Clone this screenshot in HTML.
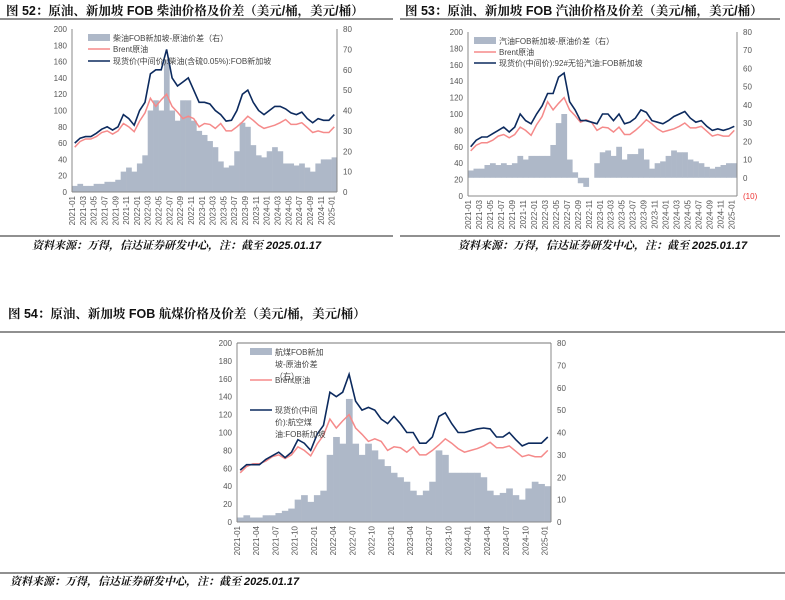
<!DOCTYPE html>
<html><head><meta charset="utf-8">
<style>
body{margin:0;background:#fff;width:785px;height:600px;overflow:hidden;font-family:"Liberation Sans","Noto Sans CJK SC",sans-serif;}
svg{position:absolute;left:0;top:0;}
.t{font-weight:bold;font-size:12.5px;fill:#111;font-family:"Liberation Sans","Noto Serif CJK SC",serif;}
.s{font-style:italic;font-weight:bold;font-size:11px;fill:#111;font-family:"Liberation Sans","Noto Serif CJK SC",serif;}
.tk{font-size:8px;fill:#555;}
.lg{font-size:8px;fill:#444;}
</style></head>
<body>
<svg id="page" width="785" height="600">
<text class="t" x="6" y="15">图 52：原油、新加坡 FOB 柴油价格及价差（美元/桶，美元/桶）</text>
<line x1="0" y1="19" x2="393" y2="19" stroke="#222" stroke-width="1"/>
<text class="t" x="405" y="15">图 53：原油、新加坡 FOB 汽油价格及价差（美元/桶，美元/桶）</text>
<line x1="400" y1="19" x2="780" y2="19" stroke="#222" stroke-width="1"/>
<line x1="0" y1="236" x2="393" y2="236" stroke="#222" stroke-width="1"/>
<line x1="400" y1="236" x2="780" y2="236" stroke="#222" stroke-width="1"/>
<text class="s" x="32" y="249">资料来源：万得，信达证券研发中心，注：截至 2025.01.17</text>
<text class="s" x="458" y="249">资料来源：万得，信达证券研发中心，注：截至 2025.01.17</text>
<text class="t" x="8" y="318">图 54：原油、新加坡 FOB 航煤价格及价差（美元/桶，美元/桶）</text>
<line x1="0" y1="332" x2="785" y2="332" stroke="#222" stroke-width="1"/>
<line x1="0" y1="573" x2="785" y2="573" stroke="#222" stroke-width="1"/>
<text class="s" x="10" y="585">资料来源：万得，信达证券研发中心，注：截至 2025.01.17</text>
</svg>
<script>
const months = [];
for (let y = 2021; y <= 2025; y++) for (let m = 1; m <= 12; m++) { if (y === 2025 && m > 1) break; months.push(y + '-' + String(m).padStart(2, '0')); }
const brent = [55,62,65,65,68,73,75,71,75,84,80,74, 87,97,115,105,113,120,105,98,90,93,90,80, 84,83,78,84,75,75,80,86,93,88,82,78, 80,82,85,89,83,83,85,79,73,75,73,73, 80];
const diesel = [60,66,68,68,72,77,80,76,80,95,90,82, 100,110,145,150,150,175,140,130,135,140,125,110, 110,108,100,95,87,88,100,120,125,110,100,95, 100,105,105,102,97,95,98,90,85,90,88,88, 95];
const dieselSpread = [3,4,3,3,4,4,5,5,6,10,12,10, 14,18,40,45,40,65,40,35,45,45,35,30, 28,25,22,15,12,13,20,34,32,23,18,17, 20,22,20,14,14,13,14,12,10,14,16,16,17];
const gasoline = [60,68,72,72,76,80,84,78,84,100,92,88, 100,110,125,125,145,150,115,105,92,92,90,88, 100,100,92,100,88,90,95,105,102,92,90,88, 92,97,100,103,95,90,92,85,80,82,80,82, 85];
const gasSpread = [4,5,5,7,8,7,8,7,8,12,10,12, 12,12,12,18,30,35,10,3,-3,-5,0,8, 14,15,12,17,10,13,13,16,10,5,8,9, 12,15,14,14,10,9,8,6,5,6,7,8,8];
const jet = [58,64,64,64,70,74,78,72,78,92,88,80, 98,108,145,140,145,165,135,125,128,125,115,110, 118,110,100,100,88,88,95,118,122,110,100,100, 102,104,105,104,95,95,100,92,85,88,88,88, 95];
const jetSpread = [2,3,2,2,3,3,4,5,6,10,12,9, 12,14,30,38,35,55,35,30,35,32,28,25, 22,20,18,14,12,14,18,32,30,22,22,22, 22,22,20,14,12,13,15,12,10,15,18,17,16];
const leftTicks = [0,20,40,60,80,100,120,140,160,180,200];
const rightTicks52 = [0,10,20,30,40,50,60,70,80];
const rightTicks53 = [-10,0,10,20,30,40,50,60,70,80];

const NS = 'http://www.w3.org/2000/svg';
const svg = document.getElementById('page');
function mk(tag, attrs, parent) {
  const e = document.createElementNS(NS, tag);
  for (const k in attrs) e.setAttribute(k, attrs[k]);
  (parent || svg).appendChild(e);
  return e;
}
function drawChart(c) {
  const g = mk('g', {});
  
  
  const n = months.length;
  const xs = i => c.x0 + (i + 0.5) * (c.x1 - c.x0) / n;
  const yl = v => c.y1 - (v - 0) / 200 * (c.y1 - c.y0);
  const yr = v => c.y1 - (v - c.rmin) / (c.rmax - c.rmin) * (c.y1 - c.y0);
  const bw = (c.x1 - c.x0) / n;
  // bars
  c.spread.forEach((v, i) => {
    const a = yr(0), b = yr(v);
    const r = mk('rect', {x: c.x0 + i * bw, y: Math.min(a, b), width: bw + 0.3, height: Math.abs(a - b), fill: '#aeb8c8'}, g);
    
    
  });
  const pts = arr => arr.map((v, i) => xs(i).toFixed(1) + ',' + yl(v).toFixed(1)).join(' ');
  const pb = mk('polyline', {points: pts(brent), fill: 'none', stroke: '#f58a8a', 'stroke-width': 1.5}, g);
  
  
  const ps = mk('polyline', {points: pts(c.spot), fill: 'none', stroke: '#0c2a5e', 'stroke-width': 1.6}, g);
  
  
  // axes
  mk('line', {x1: c.x0, y1: c.y0, x2: c.x0, y2: c.y1, stroke: '#888'}, g);
  mk('line', {x1: c.x1, y1: c.y0, x2: c.x1, y2: c.y1, stroke: '#888'}, g);
  mk('line', {x1: c.x0, y1: c.y1, x2: c.x1, y2: c.y1, stroke: '#888'}, g);
  if (c.top) mk('line', {x1: c.x0, y1: c.y0, x2: c.x1, y2: c.y0, stroke: '#777'}, g);
  leftTicks.forEach(v => {
    const t = mk('text', {x: c.x0 - 5, y: yl(v) + 3, 'text-anchor': 'end', class: 'tk'}, g);
    t.textContent = v;
    
    
  });
  c.rticks.forEach(v => {
    const t = mk('text', {x: c.x1 + 6, y: yr(v) + 3, class: 'tk', fill: v < 0 ? '#e33' : '#555'}, g);
    if (v < 0) t.style.fill = '#e33';
    t.textContent = v < 0 ? '(' + (-v) + ')' : v;
    
    
  });
  months.forEach((m, i) => {
    if (i % c.step !== 0) return;
    const x = c.x0 + i * bw + 3;
    const t = mk('text', {x: 0, y: 0, 'text-anchor': 'end', class: 'tk', transform: `translate(${x},${c.y1 + 4}) rotate(-90)`}, g);
    t.textContent = m;
    
    
  });
  // legend
  c.legend.forEach((L, k) => {
    const y = L.y;
    if (k === 0) mk('rect', {x: c.lx, y: y - 4, width: 22, height: 7, fill: '#aeb8c8'}, g);
    else mk('line', {x1: c.lx, y1: y, x2: c.lx + 22, y2: y, stroke: k === 1 ? '#f58a8a' : '#0c2a5e', 'stroke-width': 1.6}, g);
    L.lines.forEach((s, j) => {
      const t = mk('text', {x: c.lx + 25, y: y + 3 + j * 12, class: 'lg'}, g);
      t.textContent = s;
      
      
    });
  });
}
drawChart({name: 'chart52', x0: 72, x1: 337, y0: 29, y1: 192, rmin: 0, rmax: 80, rticks: rightTicks52, spot: diesel, spread: dieselSpread, step: 2, top: false, lx: 88,
  legend: [{y: 38, lines: ['柴油FOB新加坡-原油价差（右）']}, {y: 49, lines: [' Brent原油']}, {y: 61, lines: ['现货价(中间价):柴油(含硫0.05%):FOB新加坡']}]});
drawChart({name: 'chart53', x0: 468, x1: 737, y0: 32, y1: 196, rmin: -10, rmax: 80, rticks: rightTicks53, spot: gasoline, spread: gasSpread, step: 2, top: false, lx: 474,
  legend: [{y: 41, lines: ['汽油FOB新加坡-原油价差（右）']}, {y: 52, lines: [' Brent原油']}, {y: 63, lines: ['现货价(中间价):92#无铅汽油:FOB新加坡']}]});
drawChart({name: 'chart54', x0: 237, x1: 551, y0: 343, y1: 522, rmin: 0, rmax: 80, rticks: rightTicks52, spot: jet, spread: jetSpread, step: 3, top: true, lx: 250,
  legend: [{y: 352, lines: ['航煤FOB新加', '坡-原油价差', '（右）']}, {y: 380, lines: ['Brent原油']}, {y: 410, lines: ['现货价(中间', '价):航空煤', '油:FOB新加坡']}]});
</script>
</body></html>
